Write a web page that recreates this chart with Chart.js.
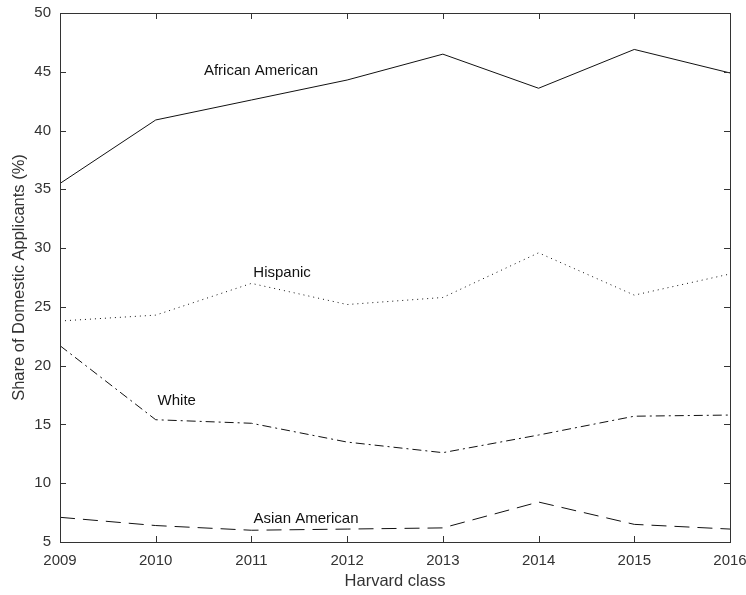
<!DOCTYPE html>
<html>
<head>
<meta charset="utf-8">
<title>Harvard class applicants</title>
<script src="https://cdn.jsdelivr.net/npm/chart.js@4/dist/chart.umd.min.js"></script>
<style>
  body { margin: 0; background: #fff; }
</style>
</head>
<body>
<canvas id="myChart" width="746" height="595"></canvas>
<script>
// data
const years = [2009, 2010, 2011, 2012, 2013, 2014, 2015, 2016];
const africanAmerican = [35.5, 40.9, 42.6, 44.3, 46.5, 43.6, 46.9, 44.9];
const hispanic = [23.8, 24.3, 27.0, 25.2, 25.8, 29.6, 26.0, 27.8];
const white = [21.7, 15.4, 15.1, 13.5, 12.6, 14.1, 15.7, 15.8];
const asianAmerican = [7.1, 6.4, 6.0, 6.1, 6.2, 8.4, 6.5, 6.1];
const yTicks = [5, 10, 15, 20, 25, 30, 35, 40, 45, 50];

// where the series names sit (data coords)
const seriesLabels = [
  { text: 'African American', x: 2011.1, y: 45.05 },
  { text: 'Hispanic', x: 2011.32, y: 27.9 },
  { text: 'White', x: 2010.22, y: 17.0 },
  { text: 'Asian American', x: 2011.57, y: 7.0 }
];

function pts(vals) {
  return vals.map(function (v, i) { return { x: years[i], y: v }; });
}

const font = 'Liberation Sans, Arial, sans-serif';

// box around the plot with inward ticks on all sides, plus series names
const frame = {
  id: 'frame',
  afterDraw: function (chart) {
    const c = chart.ctx, a = chart.chartArea;
    const xs = chart.scales.x, ys = chart.scales.y;
    c.save();
    c.strokeStyle = '#333';
    c.lineWidth = 1;
    c.strokeRect(Math.round(a.left) + 0.5, Math.round(a.top) + 0.5,
      Math.round(a.right - a.left), Math.round(a.bottom - a.top));
    c.beginPath();
    years.forEach(function (yr) {
      const px = Math.round(xs.getPixelForValue(yr)) + 0.5;
      c.moveTo(px, a.bottom); c.lineTo(px, a.bottom - 6);
      c.moveTo(px, a.top); c.lineTo(px, a.top + 6);
    });
    yTicks.forEach(function (v) {
      const py = Math.round(ys.getPixelForValue(v)) + 0.5;
      c.moveTo(a.left, py); c.lineTo(a.left + 6, py);
      c.moveTo(a.right, py); c.lineTo(a.right - 6, py);
    });
    c.stroke();
    c.fillStyle = '#111';
    c.font = '15px ' + font;
    c.textAlign = 'center';
    c.textBaseline = 'middle';
    seriesLabels.forEach(function (l) {
      c.fillText(l.text, xs.getPixelForValue(l.x), ys.getPixelForValue(l.y));
    });
    c.restore();
  }
};

function line(label, vals, dash) {
  return {
    label: label,
    data: pts(vals),
    borderColor: '#111',
    borderWidth: 1,
    borderDash: dash,
    pointRadius: 0,
    tension: 0,
    fill: false
  };
}

const ctx = document.getElementById('myChart').getContext('2d');
let myChart = new Chart(ctx, {
  type: 'line',
  data: {
    datasets: [
      line('African American', africanAmerican, []),
      line('Hispanic', hispanic, [1, 4]),
      line('White', white, [9, 4, 2, 4]),
      line('Asian American', asianAmerican, [15, 8])
    ]
  },
  options: {
    responsive: false,
    animation: false,
    layout: { padding: { top: 13, right: 16, left: 0, bottom: 0 } },
    plugins: {
      legend: { display: false },
      tooltip: { enabled: false }
    },
    scales: {
      x: {
        type: 'linear',
        min: 2009,
        max: 2016,
        grid: { display: false, drawTicks: false },
        border: { display: false },
        afterFit: function (s) {
          s.height = 53;
          s.paddingLeft = 0;
          s.paddingRight = 0;
        },
        ticks: {
          stepSize: 1,
          padding: 10,
          color: '#333',
          font: { family: font, size: 15 },
          callback: function (v) { return String(v); }
        },
        title: {
          display: true,
          text: 'Harvard class',
          color: '#333',
          font: { family: font, size: 16.5 },
          padding: { top: 2, bottom: 4 }
        }
      },
      y: {
        min: 5,
        max: 50,
        grid: { display: false, drawTicks: false },
        border: { display: false },
        afterFit: function (s) {
          s.width = 60;
          s.paddingTop = 0;
          s.paddingBottom = 0;
        },
        ticks: {
          stepSize: 5,
          padding: 9,
          color: '#333',
          font: { family: font, size: 15 }
        },
        title: {
          display: true,
          text: 'Share of Domestic Applicants (%)',
          color: '#333',
          font: { family: font, size: 16.5 },
          padding: { top: 10, bottom: 2 }
        }
      }
    }
  },
  plugins: [frame]
});
</script>
</body>
</html>
